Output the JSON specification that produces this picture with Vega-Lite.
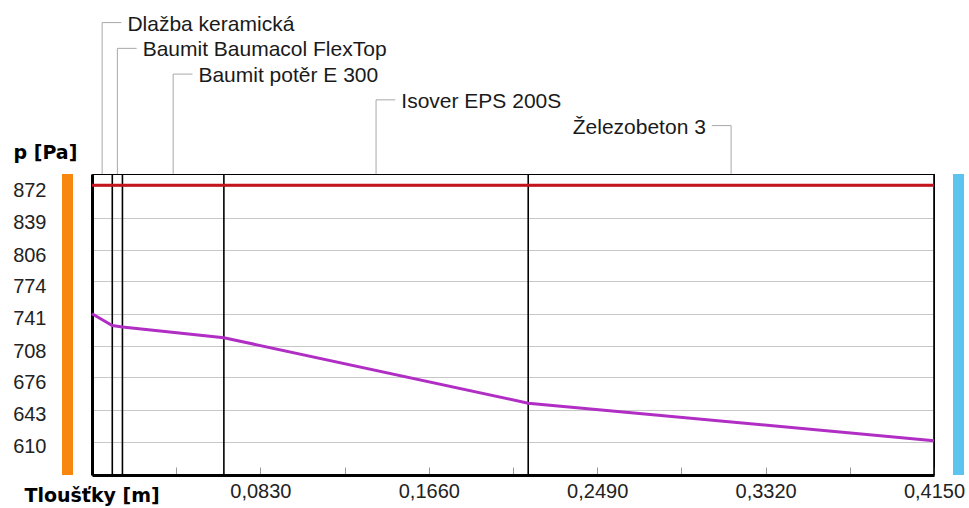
{
  "$schema": "https://vega.github.io/schema/vega-lite/v6.json",
  "padding": {"left": 12, "top": 2, "right": 3, "bottom": 1},
  "background": "white",
  "config": {
    "font": "Liberation Sans",
    "view": {"stroke": null},
    "concat": {"spacing": 0}
  },
  "datasets": {
    "vrstvy": [
      {"poradi": 1, "nazev": "Dlažba keramická", "zacatek": 0.0, "konec": 0.010},
      {"poradi": 2, "nazev": "Baumit Baumacol FlexTop", "zacatek": 0.010, "konec": 0.015},
      {"poradi": 3, "nazev": "Baumit potěr E 300", "zacatek": 0.015, "konec": 0.065},
      {"poradi": 4, "nazev": "Isover EPS 200S", "zacatek": 0.065, "konec": 0.215},
      {"poradi": 5, "nazev": "Železobeton 3", "zacatek": 0.215, "konec": 0.415}
    ],
    "tlak": [
      {"velicina": "p_sat", "tloustka": 0.0, "tlak": 872.6},
      {"velicina": "p_sat", "tloustka": 0.415, "tlak": 872.6},
      {"velicina": "p", "tloustka": 0.0, "tlak": 741.0},
      {"velicina": "p", "tloustka": 0.010, "tlak": 729.0},
      {"velicina": "p", "tloustka": 0.015, "tlak": 727.5},
      {"velicina": "p", "tloustka": 0.065, "tlak": 716.5},
      {"velicina": "p", "tloustka": 0.215, "tlak": 649.5},
      {"velicina": "p", "tloustka": 0.415, "tlak": 611.0}
    ],
    "strany": [
      {"strana": "interiér", "tloustka": 0.0},
      {"strana": "exteriér", "tloustka": 0.415}
    ]
  },
  "spacing": 0,
  "bounds": "flush",
  "vconcat": [
    {
      "width": 842,
      "height": 172,
      "data": {"name": "vrstvy"},
      "transform": [
        {"calculate": "(datum.zacatek + datum.konec) / 2", "as": "stred"},
        {"calculate": "datum.stred > 0.3 ? datum.stred - 0.0095 : datum.stred + 0.0095", "as": "vodice"}
      ],
      "encoding": {
        "x": {"field": "stred", "type": "quantitative", "scale": {"domain": [0, 0.415], "nice": false, "zero": false, "padding": 0}, "axis": null},
        "y": {"field": "poradi", "type": "quantitative", "scale": {"domain": [0.2, 6.88], "reverse": true, "nice": false, "zero": false}, "axis": null}
      },
      "layer": [
        {"mark": {"type": "rule", "color": "#a8a8a8", "strokeWidth": 1}, "encoding": {"y2": {"datum": 6.88}}},
        {"mark": {"type": "rule", "color": "#a8a8a8", "strokeWidth": 1}, "encoding": {"x2": {"field": "vodice"}}},
        {
          "transform": [{"filter": "datum.stred <= 0.3"}],
          "mark": {"type": "text", "align": "left", "baseline": "middle", "dx": 6, "dy": 2, "fontSize": 21, "color": "#1a1a1a"},
          "encoding": {"x": {"field": "vodice", "type": "quantitative"}, "text": {"field": "nazev"}}
        },
        {
          "transform": [{"filter": "datum.stred > 0.3"}],
          "mark": {"type": "text", "align": "right", "baseline": "middle", "dx": -6, "dy": 2, "fontSize": 21, "color": "#1a1a1a"},
          "encoding": {"x": {"field": "vodice", "type": "quantitative"}, "text": {"field": "nazev"}}
        }
      ]
    },
    {
      "width": 842,
      "height": 301,
      "view": {"stroke": "black", "strokeWidth": 1},
      "layer": [
        {
          "data": {"name": "vrstvy"},
          "mark": {"type": "rule", "color": "black", "strokeWidth": 1.6},
          "encoding": {
            "x": {
              "field": "konec", "type": "quantitative",
              "scale": {"domain": [0, 0.415], "nice": false, "zero": false, "padding": 0},
              "axis": {
                "values": [0, 0.0415, 0.083, 0.1245, 0.166, 0.2075, 0.249, 0.2905, 0.332, 0.3735, 0.415],
                "tickCount": 40,
                "labelExpr": "datum.value > 0.01 && abs(datum.value / 0.083 - round(datum.value / 0.083)) < 0.001 ? replace(format(datum.value, '.4f'), '.', ',') : ''",
                "labelFlush": false,
                "labelOverlap": false,
                "labelBound": false,
                "labelFont": "Liberation Sans",
                "labelFontSize": 20,
                "labelColor": "#222222",
                "labelPadding": 14,
                "tickSize": -8,
                "tickColor": "#9a9a9a",
                "tickWidth": 1,
                "domainColor": "black",
                "domainWidth": 3,
                "grid": false,
                "title": "Tloušťky [m]",
                "titleFont": "DejaVu Sans",
                "titleFontWeight": "bold",
                "titleFontSize": 19,
                "titleColor": "black",
                "titleAlign": "left",
                "titleBaseline": "alphabetic",
                "titleX": -68,
                "titleY": 26
              }
            }
          }
        },
        {
          "data": {"name": "tlak"},
          "mark": {"type": "line", "strokeWidth": 3},
          "encoding": {
            "x": {"field": "tloustka", "type": "quantitative"},
            "y": {
              "field": "tlak", "type": "quantitative",
              "scale": {"domain": [576, 884], "nice": false, "zero": false, "padding": 0},
              "axis": {
                "values": [610, 643, 676, 708, 741, 774, 806, 839, 872],
                "tickCount": 40,
                "labelFont": "Liberation Sans",
                "labelFontSize": 20,
                "labelColor": "#222222",
                "labelPadding": 46,
                "labelOffset": 5,
                "labelOverlap": false,
                "labelBound": false,
                "labelFlush": false,
                "ticks": false,
                "grid": true,
                "gridColor": "#c8c8c8",
                "gridWidth": 1,
                "domainColor": "black",
                "domainWidth": 3,
                "title": "p [Pa]",
                "titleFont": "DejaVu Sans",
                "titleFontWeight": "bold",
                "titleFontSize": 19,
                "titleColor": "black",
                "titleAngle": 0,
                "titleAlign": "left",
                "titleBaseline": "alphabetic",
                "titleX": -79,
                "titleY": -16
              }
            },
            "color": {
              "field": "velicina", "type": "nominal",
              "scale": {"domain": ["p_sat", "p", "interiér", "exteriér"], "range": ["#c4141e", "#b02ec4", "#f7870f", "#5cc4ee"]},
              "legend": null
            }
          }
        },
        {
          "data": {"name": "strany"},
          "transform": [{"filter": "datum.strana == 'interiér'"}],
          "mark": {"type": "bar", "orient": "vertical", "width": 11, "xOffset": -24.5},
          "encoding": {
            "x": {"field": "tloustka", "type": "quantitative"},
            "y": {"datum": 576},
            "y2": {"datum": 884},
            "color": {"field": "strana", "type": "nominal", "legend": null}
          }
        },
        {
          "data": {"name": "strany"},
          "transform": [{"filter": "datum.strana == 'exteriér'"}],
          "mark": {"type": "bar", "orient": "vertical", "width": 11, "xOffset": 24.5},
          "encoding": {
            "x": {"field": "tloustka", "type": "quantitative"},
            "y": {"datum": 576},
            "y2": {"datum": 884},
            "color": {"field": "strana", "type": "nominal", "legend": null}
          }
        }
      ]
    }
  ]
}
